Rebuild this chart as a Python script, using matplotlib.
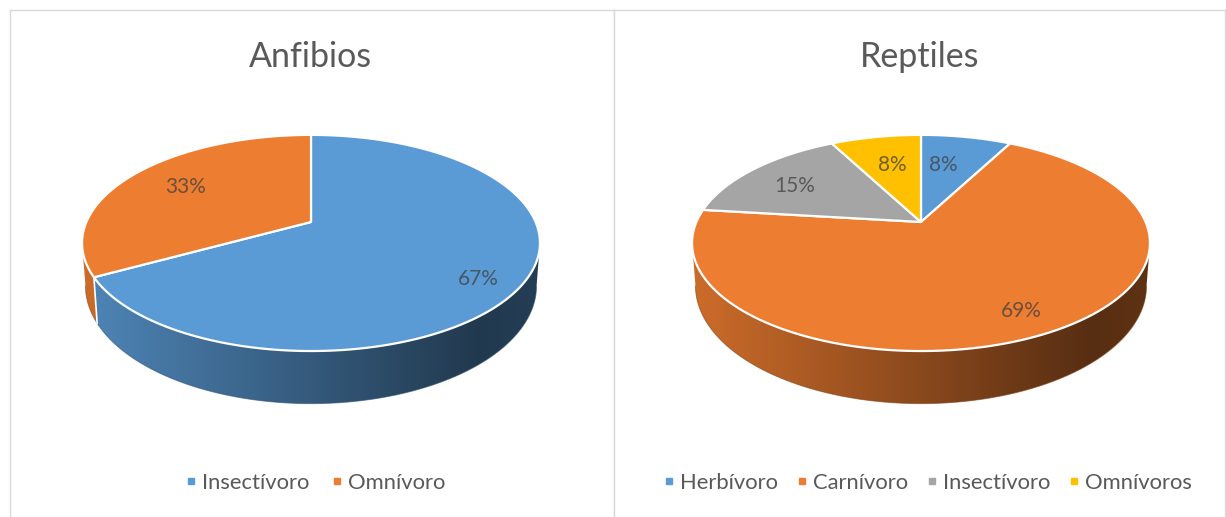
import numpy as np
import matplotlib
matplotlib.use("Agg")
import matplotlib.pyplot as plt
from matplotlib.colors import to_rgb
from matplotlib.lines import Line2D
from matplotlib.patches import Polygon

plt.rcParams["font.family"] = ["Lato", "DejaVu Sans"]

# Values
anfibios_labels = ["Insectívoro", "Omnívoro"]
anfibios_values = [67, 33]
anfibios_pct = ["67%", "33%"]
anfibios_colors = ["#5b9bd5", "#ed7d31"]

reptiles_labels = ["Herbívoro", "Carnívoro", "Insectívoro", "Omnívoros"]
reptiles_values = [7.7, 69.2, 15.4, 7.7]
reptiles_pct = ["8%", "69%", "15%", "8%"]
reptiles_colors = ["#5b9bd5", "#ed7d31", "#a5a5a5", "#ffc000"]

W, H = 1226, 517
TEXT = "#595959"
RIM = "#d9d9d9"

# perspective of the disc (pixels), the front looks bigger than the back
A, D, C = 104.0, 224.6, 0.194
# bottom rim of the wall relative to the top rim
BOTTOM_DY, BOTTOM_SX, BOTTOM_SY = 41, 0.985, 1.09


def project(t, cx, cy):
    # t = degrees clockwise from the top of the pie
    rad = np.radians(t)
    X, Y = np.sin(rad), np.cos(rad)
    w = 1 + C * Y
    return cx + X * D / w, cy - Y * A / w


def lower(x, y, cx, cy):
    return cx + (x - cx) * BOTTOM_SX, cy + BOTTOM_DY + (y - cy) * BOTTOM_SY


def side_shade(x_rel):
    # dark band towards the right, like the excel 3d pie
    return np.interp(x_rel, [-229, -210, -80, 0, 100, 170, 229],
                     [0.86, 0.84, 0.68, 0.58, 0.45, 0.37, 0.40])


def draw_pie(ax, values, colors, cx, cy):
    edges = np.concatenate([[0], np.cumsum(values)]) / np.sum(values) * 360
    xgrid = np.arange(cx - 235, cx + 236)

    # side wall first
    for i, col in enumerate(colors):
        ts = np.linspace(edges[i], edges[i + 1], 400)
        ts = ts[np.cos(np.radians(ts)) < -C]
        if len(ts) < 2:
            continue
        xs, ys = project(ts, cx, cy)
        xb, yb = lower(xs, ys, cx, cy)
        wall = Polygon(np.column_stack([np.r_[xs, xb[::-1]], np.r_[ys, yb[::-1]]]),
                       closed=True, facecolor="none", edgecolor="none")
        ax.add_patch(wall)
        grad = np.outer(side_shade(xgrid - cx), np.array(to_rgb(col)))[np.newaxis, :, :]
        im = ax.imshow(grad, extent=(xgrid[0], xgrid[-1], cy + 200, cy - 60),
                       aspect="auto", interpolation="bilinear", zorder=1)
        im.set_clip_path(wall)
        # soften the clipped outline with a thin line along the bottom rim
        ax.plot(xb, yb, color=np.array(to_rgb(col)) * 0.55, lw=0.7, alpha=0.6, zorder=1)
        # seam between two slices on the wall
        if i > 0 and np.cos(np.radians(edges[i])) < -C:
            x0, y0 = project(edges[i], cx, cy)
            x1, y1 = lower(x0, y0, cx, cy)
            ax.plot([x0, x1], [y0, y1], color="white", lw=1.2, zorder=2)

    # top of the disc
    for i, col in enumerate(colors):
        ts = np.linspace(edges[i], edges[i + 1], 200)
        xs, ys = project(ts, cx, cy)
        pts = np.column_stack([np.r_[cx, xs], np.r_[cy, ys]])
        ax.add_patch(Polygon(pts, closed=True, facecolor=col, edgecolor="white",
                             linewidth=1.6, joinstyle="round", zorder=3))


def panel(left, right, title, values, colors, labels, pct, pct_pos, cx, cy,
          legend_x, columnspacing):
    ax = fig.add_axes([left / W, 0, (right - left) / W, (H - 10) / H])
    draw_pie(ax, values, colors, cx, cy)
    ax.set_xlim(left, right)
    ax.set_ylim(H, 10)
    ax.set_xticks([])
    ax.set_yticks([])
    for s in ax.spines.values():
        s.set_color(RIM)
        s.set_linewidth(1)
    ax.spines["bottom"].set_visible(False)

    ax.text(cx - 1, 57, title, color=TEXT, fontsize=24.5, ha="center", va="center")
    for txt, (x, y) in zip(pct, pct_pos):
        ax.text(x, y, txt, color="#404040", alpha=0.75, fontsize=15, ha="center",
                va="center", zorder=5)

    handles = [Line2D([], [], linestyle="none", marker="s", markersize=4.5,
                      color=c) for c in colors]
    ax.legend(handles, labels, ncol=len(labels), frameon=False, loc="center",
              bbox_to_anchor=(legend_x, 483), bbox_transform=ax.transData,
              fontsize=15.8, labelcolor=TEXT, handlelength=0.8, handletextpad=0.1,
              columnspacing=columnspacing, borderpad=0, borderaxespad=0)


fig = plt.figure(figsize=(W / 100, H / 100), dpi=100)

panel(10, 614, "Anfibios", anfibios_values, anfibios_colors, anfibios_labels,
      anfibios_pct, [(478, 279), (186, 187)], 311, 222, 314, 0.88)
panel(614, 1225, "Reptiles", reptiles_values, reptiles_colors, reptiles_labels,
      reptiles_pct, [(943, 165), (1021, 311), (795, 186), (892, 165)], 921, 222, 926, 0.68)

fig.savefig("out.png", dpi=100)
